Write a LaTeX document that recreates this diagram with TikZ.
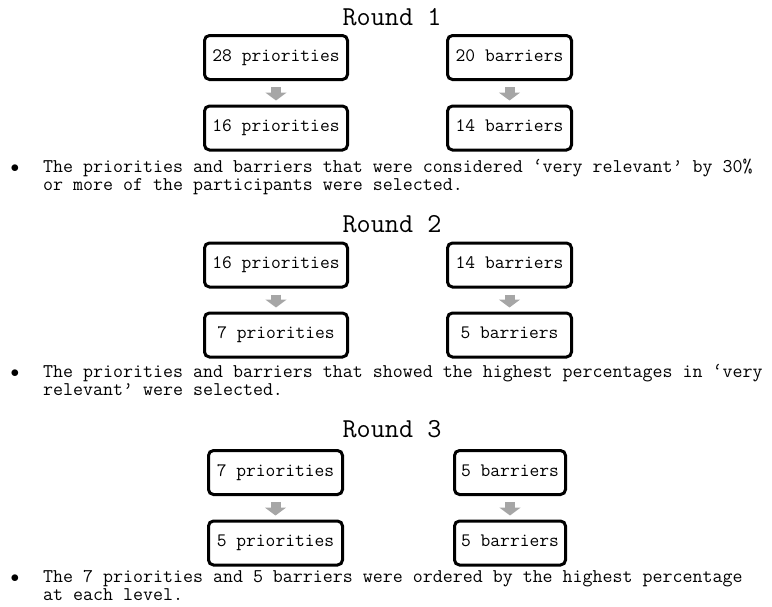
\documentclass[tikz,border=0pt]{standalone}
\usepackage{xcolor}
\usetikzlibrary{arrows.meta}
\definecolor{arrowgray}{HTML}{A6A6A6}

\tikzset{
  stage/.style={draw, line width=3pt, rounded corners=5pt, minimum height=44pt,
    inner sep=0pt, text height=1.8ex, text depth=0.1ex,
    font=\ttfamily\fontsize{19}{21}\selectfont},
  flow/.style={draw=arrowgray, line width=10pt, shorten <=6pt, shorten >=4pt,
    -{Triangle[width=21pt,length=8pt]}},
  roundtitle/.style={anchor=base, inner sep=0pt, font=\ttfamily\fontsize{27.4}{30}\selectfont},
  note/.style={anchor=base west, align=left, inner sep=0pt,
    font=\ttfamily\fontsize{19.4}{18}\selectfont},
  dot/.style={anchor=base, inner sep=0pt, font=\fontsize{16}{18}\selectfont}
}

\begin{document}
\begin{tikzpicture}[x=1pt, y=-1pt]
  \useasboundingbox (0,0) rectangle (772,606);

  % Round 1
  \node[roundtitle] (t1) at (392,25) {Round 1};
  \node[stage, minimum width=143pt] (p1a) at (276,57.5) {28 priorities};
  \node[stage, minimum width=143pt] (p1b) at (276,128) {16 priorities};
  \node[stage, minimum width=124pt] (b1a) at (509.5,57.5) {20 barriers};
  \node[stage, minimum width=124pt] (b1b) at (509.5,128) {14 barriers};
  \node[dot] (d1) at (15,172) {$\bullet$};
  \node[note] (n1) at (43,190) {The priorities and barriers that were considered ‘very relevant’ by 30\%\\
    or more of the participants were selected.};

  % Round 2
  \node[roundtitle] (t2) at (392,232) {Round 2};
  \node[stage, minimum width=143pt] (p2a) at (276,265) {16 priorities};
  \node[stage, minimum width=143pt] (p2b) at (276,335) {7 priorities};
  \node[stage, minimum width=124pt] (b2a) at (509.5,265) {14 barriers};
  \node[stage, minimum width=124pt] (b2b) at (509.5,335) {5 barriers};
  \node[dot] (d2) at (15,377) {$\bullet$};
  \node[note] (n2) at (43,395) {The priorities and barriers that showed the highest percentages in ‘very\\
    relevant’ were selected.};

  % Round 3
  \node[roundtitle] (t3) at (392,437) {Round 3};
  \node[stage, minimum width=134pt] (p3a) at (275.5,472.5) {7 priorities};
  \node[stage, minimum width=134pt] (p3b) at (275.5,543) {5 priorities};
  \node[stage, minimum width=111pt] (b3a) at (510,472.5) {5 barriers};
  \node[stage, minimum width=111pt] (b3b) at (510,543) {5 barriers};
  \node[dot] (d3) at (15,582) {$\bullet$};
  \node[note] (n3) at (43,600) {The 7 priorities and 5 barriers were ordered by the highest percentage\\
    at each level.};

  \foreach \r in {1,2,3} {
    \draw[flow] (p\r a) -- (p\r b);
    \draw[flow] (b\r a) -- (b\r b);
  }
\end{tikzpicture}
\end{document}
